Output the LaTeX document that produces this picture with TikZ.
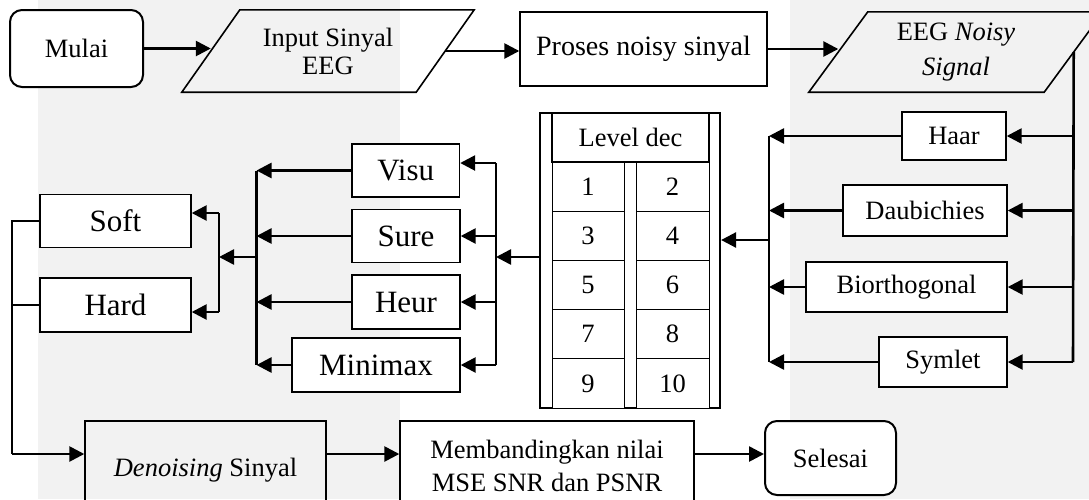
\documentclass[tikz,border=0pt]{standalone}
\usepackage{fontspec}
\setmainfont{Liberation Serif}
\usetikzlibrary{arrows.meta}
\tikzset{x=1pt, y=-1pt,
  every node/.style={font=\fontsize{26.5}{28}\selectfont, inner sep=0pt, align=center},
  box/.style={draw, line width=1.4pt, fill=white},
  rbox/.style={draw, line width=2pt, rounded corners=12pt, fill=white},
  io/.style={line width=1.6pt},
  big/.style={font=\fontsize{31}{34}\selectfont},
  cell/.style={draw, line width=0.9pt, fill=white, minimum height=49.2pt},
  arr/.style={line width=2.6pt, -{Triangle[length=15pt,width=15pt]}},
  link/.style={line width=2.6pt}}

\begin{document}
\begin{tikzpicture}

   \useasboundingbox (0,0) rectangle (1089,499);
   \fill[black!5] (38,0) rectangle (400,499);
   \fill[black!5] (790,0) rectangle (1089,499);

   \node[rbox, minimum width=133pt, minimum height=77pt] (mulai) at (76.5,48.5) {Mulai};
   \node[minimum width=234pt, minimum height=82pt] (inp) at (328,51) {Input Sinyal\\EEG};
   \draw[io] ([xshift=-29pt]inp.south west) -- ([xshift=-29pt]inp.south east)
          -- ([xshift=29pt]inp.north east) -- ([xshift=29pt]inp.north west) -- cycle;
   \node[box, minimum width=247pt, minimum height=74pt, font=\fontsize{28}{30}\selectfont] (proses) at (643.5,49) {Proses noisy sinyal};
   \node[minimum width=235pt, minimum height=80pt, font=\fontsize{26.5}{35}\selectfont] (eeg) at (956,52) {EEG \textit{Noisy}\\\textit{Signal}};
   \draw[io] ([xshift=-29.5pt]eeg.south west) -- ([xshift=-29.5pt]eeg.south east)
          -- ([xshift=29.5pt]eeg.north east) -- ([xshift=29.5pt]eeg.north west) -- cycle;

   \node[box, minimum width=104pt, minimum height=48pt] (haar) at (954,136) {Haar};
   \node[box, minimum width=164pt, minimum height=51pt] (daub) at (925,210.5) {Daubichies};
   \node[box, minimum width=201pt, minimum height=50pt] (bior) at (906.5,287) {Biorthogonal};
   \node[box, minimum width=128pt, minimum height=50pt] (sym) at (943,362) {Symlet};

   \node[draw, line width=2.2pt, fill=white, minimum width=180pt, minimum height=295pt] (tbl) at (630,260.5) {};
   \node[draw, line width=2.2pt, minimum width=157pt, minimum height=49pt] (lvl) at (630.5,137.5) {Level dec};
   \foreach \r [evaluate=\r as \ya using 186.6+49.2*\r,
                evaluate=\r as \na using int(2*\r+1),
                evaluate=\r as \nb using int(2*\r+2)] in {0,...,4}{
     \node[cell, minimum width=72pt] (c\na) at (588,\ya) {\na};
     \node[cell, minimum width=73pt] (c\nb) at (672.5,\ya) {\nb};
   }

   \node[box, big, minimum width=107.5pt, minimum height=53pt] (visu) at (405.75,170.5) {Visu};
   \node[box, big, minimum width=108pt, minimum height=53.5pt] (sure) at (406,236) {Sure};
   \node[box, big, minimum width=108pt, minimum height=54pt] (heur) at (406,302) {Heur};
   \node[box, big, minimum width=168pt, minimum height=54pt] (mini) at (376,365) {Minimax};

   \node[box, big, minimum width=151pt, minimum height=53.5pt] (soft) at (115.5,221) {Soft};
   \node[box, big, minimum width=151pt, minimum height=54pt] (hard) at (115.5,305) {Hard};

   \node[draw, line width=1.4pt, minimum width=241pt, minimum height=98pt] (den) at (205.5,470) {\textit{Denoising} Sinyal};
   \node[box, minimum width=294pt, minimum height=90pt, font=\fontsize{26.5}{33}\selectfont] (memb) at (547,466) {Membandingkan nilai\\MSE SNR dan PSNR};
   \node[rbox, minimum width=131pt, minimum height=74pt] (selesai) at (830.5,458) {Selesai};

   \coordinate (rb) at (1073,0);
   \coordinate (lb) at (769,0);
   \coordinate (ltap) at (769,240);
   \coordinate (mtap) at (496,257);
   \coordinate (mb) at (496,163);
   \coordinate (tb) at (256.5,0);
   \coordinate (sbt) at (219,213);
   \coordinate (sbb) at (219,312);
   \coordinate (lx) at (12,0);
   \coordinate (brow) at (0,454);

   \draw[arr] (mulai.east) -- (mulai.east -| inp.west);
   \draw[arr] (inp.east) -- (inp.east -| proses.west);
   \draw[arr] (proses.east) -- (proses.east -| eeg.west);

   \draw[link] (eeg.east) -- (rb |- sym);
   \draw[link] (lb |- haar) -- (lb |- sym);
   \foreach \w in {haar,daub,bior,sym}{
     \draw[arr] (rb |- \w) -- (\w);
     \draw[arr] (\w) -- (lb |- \w);
   }
   \draw[arr] (ltap) -- (ltap -| tbl.east);

   \draw[arr] (mtap -| tbl.west) -- (mtap);
   \draw[link] (mb) -- (mb |- mini);
   \draw[arr] (mb) -- (mb -| visu.east);
   \foreach \t in {sure,heur,mini}
     \draw[arr] (mb |- \t) -- (\t);
   \draw[link] (tb |- visu) -- (tb |- mini);
   \foreach \t in {visu,sure,heur,mini}
     \draw[arr] (\t) -- (tb |- \t);

   \draw[arr] (tb |- mtap) -- (sbt |- mtap);
   \draw[link] (sbt) -- (sbb);
   \draw[arr] (sbt) -- (sbt -| soft.east);
   \draw[arr] (sbb) -- (sbb -| hard.east);

   \draw[link] (soft.west) -- (soft.west -| lx) -- (lx |- brow);
   \draw[link] (hard.west) -- (hard.west -| lx);
   \draw[arr] (lx |- brow) -- (brow -| den.west);
   \draw[arr] (brow -| den.east) -- (brow -| memb.west);
   \draw[arr] (brow -| memb.east) -- (brow -| selesai.west);

\end{tikzpicture}
\end{document}
